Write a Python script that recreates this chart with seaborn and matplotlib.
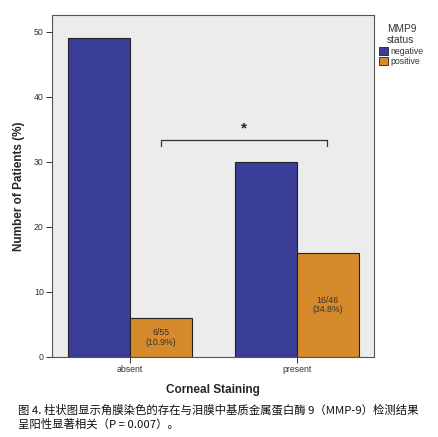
import pandas as pd
import seaborn as sns
import matplotlib.pyplot as plt

# Data
staining = ['absent', 'present']
mmp9_status = ['negative', 'positive']
negative_pct = [49, 30]
positive_pct = [6, 16]
bar_labels = ['6/55\n(10.9%)', '16/46\n(34.8%)']
caption = ('图 4. 柱状图显示角膜染色的存在与泪膜中基质金属蛋白酶 9（MMP-9）检测结果\n'
           '呈阳性显著相关（P = 0.007）。')

df = pd.DataFrame({
    'Corneal Staining': staining * 2,
    'MMP9 status': [mmp9_status[0]] * 2 + [mmp9_status[1]] * 2,
    'pct': negative_pct + positive_pct,
})

sns.set_style('ticks')
plt.rcParams['font.family'] = ['Liberation Sans', 'Noto Sans CJK SC', 'DejaVu Sans']

palette = {'negative': '#3b3e98', 'positive': '#d58b2c'}

fig = plt.figure(figsize=(4.38, 4.37), dpi=100)
ax = fig.add_axes([52 / 438, 1 - 357 / 437, 322 / 438, 342 / 437])
ax.set_facecolor('#ececec')

sns.barplot(data=df, x='Corneal Staining', y='pct', hue='MMP9 status',
            hue_order=mmp9_status, order=staining, palette=palette,
            width=0.74, edgecolor='#222222', linewidth=0.8, saturation=1,
            ax=ax)

ax.set_xlim(-0.467, 0.461 + 1)
ax.set_ylim(0, 52.6)
ax.set_yticks([0, 10, 20, 30, 40, 50])
ax.tick_params(axis='both', labelsize=6.3, length=4, width=0.7, colors='#333333',
               labelcolor='#333333', pad=2)
for s in ax.spines.values():
    s.set_color('#555555')
    s.set_linewidth(0.8)

ax.set_xlabel('Corneal Staining', fontsize=8.5, fontweight='bold', labelpad=7)
ax.set_ylabel('Number of Patients (%)', fontsize=8.5, fontweight='bold', labelpad=6)

# labels inside the positive bars
pos_bars = ax.containers[1]
for bar, lab in zip(pos_bars, bar_labels):
    ax.text(bar.get_x() + bar.get_width() / 2, bar.get_height() / 2, lab,
            ha='center', va='center', fontsize=6.3, color='#333333',
            linespacing=1.1)

# significance bracket
ax.plot([0.186, 0.186, 1.18, 1.18], [32.5, 33.4, 33.4, 32.5],
        color='#333333', lw=0.9)
ax.text(0.683, 34.0, '*', ha='center', va='bottom', fontsize=11,
        fontweight='bold', color='#222222')

# legend
handles, labels = ax.get_legend_handles_labels()
leg = ax.legend(handles, labels, title='MMP9\nstatus', loc='upper left',
                bbox_to_anchor=(1.0, 0.99), frameon=False, fontsize=6.3,
                title_fontsize=7.3, handlelength=1.0, handleheight=1.0,
                handletextpad=0.3, borderaxespad=0.2, labelspacing=0.15)
leg._legend_box.align = 'center'
leg.get_title().set_color('#333333')
for t in leg.get_texts():
    t.set_color('#333333')
for h in leg.legend_handles:
    h.set_edgecolor('#222222')
    h.set_linewidth(0.6)

fig.text(18 / 438, 1 - 404 / 437, caption, ha='left', va='top', fontsize=8.2,
         family=['Noto Sans CJK SC', 'DejaVu Sans'], linespacing=1.4,
         color='#111111')

fig.savefig('out.png', dpi=100)
